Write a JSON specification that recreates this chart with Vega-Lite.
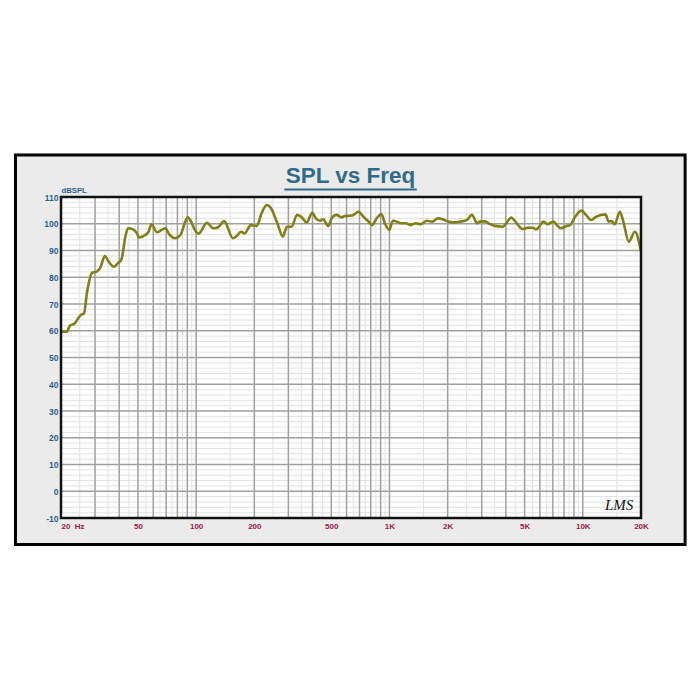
{
  "$schema": "https://vega.github.io/schema/vega-lite/v6.json",
  "width": 580,
  "height": 321,
  "autosize": {"type": "none"},
  "padding": {"left": 61, "top": 197, "right": 59, "bottom": 182},
  "background": "white",
  "config": {"view": {"stroke": null}, "font": "Liberation Sans"},
  "datasets": {
    "spl": [
      {"f": 20, "db": 59.6}, {"f": 21.4, "db": 59.6}, {"f": 22.2, "db": 61.8}, {"f": 23.6, "db": 62.8},
      {"f": 25.3, "db": 65.9}, {"f": 26.3, "db": 66.5}, {"f": 27.3, "db": 74.6}, {"f": 29.0, "db": 81.7},
      {"f": 30.6, "db": 82.1}, {"f": 32.0, "db": 83.7}, {"f": 33.7, "db": 87.9}, {"f": 35.3, "db": 85.8},
      {"f": 37.6, "db": 83.9}, {"f": 39.3, "db": 85.2}, {"f": 41.1, "db": 86.7}, {"f": 43.2, "db": 95.8},
      {"f": 44.5, "db": 98.3}, {"f": 47.2, "db": 97.9}, {"f": 49.4, "db": 96.4}, {"f": 50.7, "db": 94.9},
      {"f": 54.6, "db": 95.8}, {"f": 56.7, "db": 97.0}, {"f": 58.8, "db": 99.8}, {"f": 62.7, "db": 96.8},
      {"f": 69.2, "db": 98.3}, {"f": 73.0, "db": 95.8}, {"f": 77.9, "db": 94.6}, {"f": 82.9, "db": 95.8},
      {"f": 90.5, "db": 102.4}, {"f": 94.7, "db": 100.4}, {"f": 98, "db": 98.0}, {"f": 103, "db": 96.3},
      {"f": 113.7, "db": 100.4}, {"f": 122.6, "db": 98.3}, {"f": 130, "db": 98.7}, {"f": 139.5, "db": 101.0},
      {"f": 155, "db": 94.6}, {"f": 161, "db": 95.2}, {"f": 171, "db": 97.0}, {"f": 178, "db": 96.4},
      {"f": 192, "db": 99.5}, {"f": 206, "db": 99.2}, {"f": 218, "db": 103.9}, {"f": 232, "db": 107.0},
      {"f": 244, "db": 105.8}, {"f": 263, "db": 100.2}, {"f": 281, "db": 95.2}, {"f": 295, "db": 98.9},
      {"f": 311, "db": 98.9}, {"f": 333, "db": 103.3}, {"f": 352, "db": 102.4}, {"f": 373, "db": 100.5},
      {"f": 399, "db": 104.1}, {"f": 416, "db": 102.0}, {"f": 437, "db": 101.1}, {"f": 453, "db": 101.7},
      {"f": 482, "db": 99.2}, {"f": 505, "db": 102.4}, {"f": 533, "db": 103.3}, {"f": 565, "db": 102.4},
      {"f": 587, "db": 102.9}, {"f": 620, "db": 103.0}, {"f": 651, "db": 103.3}, {"f": 690, "db": 104.5},
      {"f": 734, "db": 102.6}, {"f": 780, "db": 100.8}, {"f": 813, "db": 99.5}, {"f": 858, "db": 102.0},
      {"f": 909, "db": 103.6}, {"f": 946, "db": 100.2}, {"f": 998, "db": 97.7}, {"f": 1041, "db": 101.1},
      {"f": 1093, "db": 100.8}, {"f": 1140, "db": 100.2}, {"f": 1211, "db": 100.2}, {"f": 1286, "db": 99.5},
      {"f": 1366, "db": 100.2}, {"f": 1451, "db": 99.8}, {"f": 1560, "db": 101.1}, {"f": 1671, "db": 100.8},
      {"f": 1775, "db": 102.0}, {"f": 1887, "db": 101.7}, {"f": 2009, "db": 100.8}, {"f": 2156, "db": 100.5},
      {"f": 2324, "db": 100.8}, {"f": 2515, "db": 101.4}, {"f": 2670, "db": 103.3}, {"f": 2838, "db": 100.2},
      {"f": 2940, "db": 100.8}, {"f": 3120, "db": 100.9}, {"f": 3245, "db": 100.2}, {"f": 3505, "db": 99.2},
      {"f": 3860, "db": 98.9}, {"f": 4020, "db": 100.2}, {"f": 4260, "db": 102.3}, {"f": 4520, "db": 100.4},
      {"f": 4885, "db": 98.0}, {"f": 5180, "db": 98.5}, {"f": 5500, "db": 98.5}, {"f": 5720, "db": 97.9},
      {"f": 5950, "db": 98.9}, {"f": 6260, "db": 100.8}, {"f": 6560, "db": 99.8}, {"f": 7050, "db": 100.8},
      {"f": 7400, "db": 99.2}, {"f": 7700, "db": 98.3}, {"f": 8260, "db": 99.2}, {"f": 8600, "db": 99.5},
      {"f": 9020, "db": 102.0}, {"f": 9580, "db": 104.5}, {"f": 9860, "db": 104.9}, {"f": 10390, "db": 103.3},
      {"f": 11040, "db": 101.4}, {"f": 11700, "db": 102.6}, {"f": 13100, "db": 103.5}, {"f": 13600, "db": 100.8},
      {"f": 14100, "db": 101.0}, {"f": 14630, "db": 99.8}, {"f": 15550, "db": 104.5}, {"f": 16200, "db": 100.8},
      {"f": 17300, "db": 93.3}, {"f": 18600, "db": 97.0}, {"f": 20000, "db": 89.6}
    ],
    "vmajor": [
      {"f": 30}, {"f": 40}, {"f": 50}, {"f": 60}, {"f": 70}, {"f": 80}, {"f": 90}, {"f": 100},
      {"f": 200}, {"f": 300}, {"f": 400}, {"f": 500}, {"f": 600}, {"f": 700}, {"f": 800}, {"f": 900}, {"f": 1000},
      {"f": 2000}, {"f": 3000}, {"f": 4000}, {"f": 5000}, {"f": 6000}, {"f": 7000}, {"f": 8000}, {"f": 9000}, {"f": 10000}
    ],
    "vminor": [
      {"f": 25}, {"f": 35}, {"f": 45}, {"f": 55}, {"f": 65}, {"f": 75}, {"f": 85}, {"f": 95},
      {"f": 150}, {"f": 250}, {"f": 350}, {"f": 450}, {"f": 550}, {"f": 650}, {"f": 750}, {"f": 850}, {"f": 950},
      {"f": 1500}, {"f": 2500}, {"f": 3500}, {"f": 4500}, {"f": 5500}, {"f": 6500}, {"f": 7500}, {"f": 8500}, {"f": 9500},
      {"f": 15000}
    ],
    "hmajor": [
      {"db": 0}, {"db": 10}, {"db": 20}, {"db": 30}, {"db": 40}, {"db": 50}, {"db": 60}, {"db": 70}, {"db": 80}, {"db": 90}, {"db": 100}
    ],
    "hminor": [
      {"db": -8}, {"db": -6}, {"db": -4}, {"db": -2},
      {"db": 2}, {"db": 4}, {"db": 6}, {"db": 8},
      {"db": 12}, {"db": 14}, {"db": 16}, {"db": 18},
      {"db": 22}, {"db": 24}, {"db": 26}, {"db": 28},
      {"db": 32}, {"db": 34}, {"db": 36}, {"db": 38},
      {"db": 42}, {"db": 44}, {"db": 46}, {"db": 48},
      {"db": 52}, {"db": 54}, {"db": 56}, {"db": 58},
      {"db": 62}, {"db": 64}, {"db": 66}, {"db": 68},
      {"db": 72}, {"db": 74}, {"db": 76}, {"db": 78},
      {"db": 82}, {"db": 84}, {"db": 86}, {"db": 88},
      {"db": 92}, {"db": 94}, {"db": 96}, {"db": 98},
      {"db": 102}, {"db": 104}, {"db": 106}, {"db": 108}
    ]
  },
  "layer": [
    {
      "data": {"values": [{}]},
      "mark": {"type": "rect", "fill": "#ebebeb", "stroke": "#000000", "strokeWidth": 3},
      "encoding": {
        "x": {
          "datum": 11.63, "type": "quantitative",
          "scale": {"type": "log", "domain": [20, 20000], "nice": false, "zero": false},
          "axis": {
            "zindex": 1,
            "title": null,
            "values": [20, 50, 100, 200, 500, 1000, 2000, 5000, 10000, 20000],
            "tickCount": 30,
            "labelExpr": "datum.value == 20 ? '20\u00a0\u00a0Hz' : (datum.value >= 1000 ? (datum.value / 1000) + 'K' : '' + datum.value)",
            "labelAlign": {"condition": {"test": "datum.value == 20", "value": "left"}, "value": "center"},
            "labelFlush": false,
            "labelOverlap": false,
            "labelColor": "#a0174c",
            "labelFont": "Liberation Sans",
            "labelFontSize": 8,
            "labelFontWeight": "bold",
            "labelPadding": 4,
            "ticks": false,
            "domain": false,
            "grid": false
          }
        },
        "x2": {"datum": 33820},
        "y": {
          "datum": 125.7, "type": "quantitative",
          "scale": {"domain": [-10, 110], "nice": false, "zero": false},
          "axis": {
            "zindex": 1,
            "title": "dBSPL",
            "titleAngle": 0,
            "titleAlign": "left",
            "titleBaseline": "alphabetic",
            "titleX": 0,
            "titleY": -4.5,
            "titleColor": "#2e5e8e",
            "titleFont": "Liberation Sans",
            "titleFontSize": 7.7,
            "titleFontWeight": "bold",
            "values": [-10, 0, 10, 20, 30, 40, 50, 60, 70, 80, 90, 100, 110],
            "tickCount": 30,
            "labelExpr": "'' + datum.value",
            "labelColor": "#2e5e8e",
            "labelFont": "Liberation Sans",
            "labelFontSize": 8.5,
            "labelFontWeight": "bold",
            "labelPadding": 3,
            "labelFlush": false,
            "labelOverlap": false,
            "ticks": false,
            "domain": false,
            "grid": false
          }
        },
        "y2": {"datum": -19.9}
      }
    },
    {
      "data": {"values": [{}]},
      "mark": {"type": "rect", "fill": "#ffffff"},
      "encoding": {
        "x": {"datum": 20, "type": "quantitative"},
        "x2": {"datum": 20000},
        "y": {"datum": -10, "type": "quantitative"},
        "y2": {"datum": 110}
      }
    },
    {
      "data": {"name": "vminor"},
      "mark": {"type": "rule", "color": "#e2e2e2", "strokeWidth": 1},
      "encoding": {"x": {"field": "f", "type": "quantitative"}}
    },
    {
      "data": {"name": "hminor"},
      "mark": {"type": "rule", "color": "#e2e2e2", "strokeWidth": 1},
      "encoding": {"y": {"field": "db", "type": "quantitative"}}
    },
    {
      "data": {"name": "vmajor"},
      "mark": {"type": "rule", "color": "#a0a0a0", "strokeWidth": 1.5},
      "encoding": {"x": {"field": "f", "type": "quantitative"}}
    },
    {
      "data": {"name": "hmajor"},
      "mark": {"type": "rule", "color": "#a0a0a0", "strokeWidth": 1.5},
      "encoding": {"y": {"field": "db", "type": "quantitative"}}
    },
    {
      "data": {"name": "spl"},
      "mark": {"type": "line", "color": "#808015", "strokeWidth": 2.6, "interpolate": "monotone"},
      "encoding": {
        "x": {"field": "f", "type": "quantitative"},
        "y": {"field": "db", "type": "quantitative"}
      }
    },
    {
      "data": {"values": [{}]},
      "mark": {"type": "rect", "fillOpacity": 0, "fill": "#ffffff", "stroke": "#111111", "strokeWidth": 2.5},
      "encoding": {
        "x": {"datum": 20, "type": "quantitative"},
        "x2": {"datum": 20000},
        "y": {"datum": -10, "type": "quantitative"},
        "y2": {"datum": 110}
      }
    },
    {
      "data": {"values": [{"t": "SPL vs Freq"}]},
      "mark": {"type": "text", "font": "Liberation Sans", "fontSize": 22.5, "fontWeight": "bold", "color": "#2f6b8a", "align": "center", "baseline": "alphabetic"},
      "encoding": {
        "x": {"datum": 629, "type": "quantitative"},
        "y": {"datum": 115.1, "type": "quantitative"},
        "text": {"field": "t"}
      }
    },
    {
      "data": {"values": [{}]},
      "mark": {"type": "rule", "color": "#2f6b8a", "strokeWidth": 2},
      "encoding": {
        "x": {"datum": 285.8, "type": "quantitative"},
        "x2": {"datum": 1384},
        "y": {"datum": 112.8, "type": "quantitative"}
      }
    },
    {
      "data": {"values": [{"t": "LMS"}]},
      "mark": {"type": "text", "font": "Liberation Serif", "fontSize": 15, "fontStyle": "italic", "color": "#111111", "align": "center", "baseline": "alphabetic"},
      "encoding": {
        "x": {"datum": 15400, "type": "quantitative"},
        "y": {"datum": -7.0, "type": "quantitative"},
        "text": {"field": "t"}
      }
    }
  ]
}
